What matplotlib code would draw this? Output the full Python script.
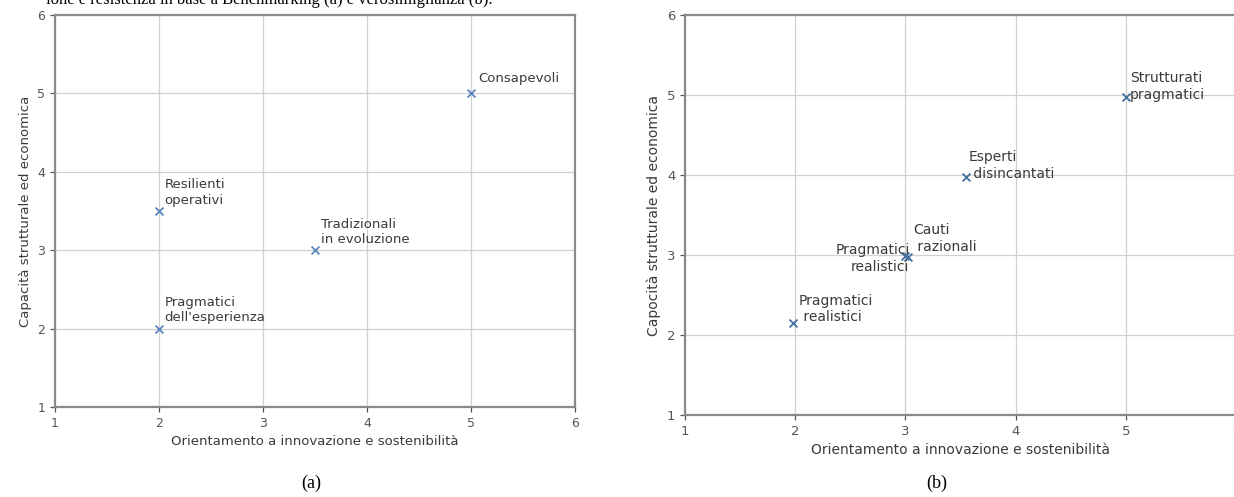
import matplotlib
matplotlib.use("Agg")
import matplotlib.pyplot as plt

# ---- data: panel (a) Benchmarking ----
a_labels = ["Consapevoli", "Resilienti\noperativi", "Tradizionali\nin evoluzione", "Pragmatici\ndell'esperienza"]
a_x = [5.0, 2.0, 3.5, 2.0]
a_y = [5.0, 3.5, 3.0, 2.0]

# ---- data: panel (b) verosimiglianza ----
b_labels = ["Strutturati\npragmatici", "Esperti\n disincantati", "Cauti\n razionali",
            "Pragmatici\nrealistici", "Pragmatici\n realistici"]
b_x = [5.0, 3.55, 3.02, 3.0, 1.98]
b_y = [4.98, 3.98, 2.98, 2.99, 2.15]

xlabel = "Orientamento a innovazione e sostenibilità"
a_ylabel = "Capacità strutturale ed economica"
b_ylabel = "Capocità strutturale ed economica"
ticks = [1, 2, 3, 4, 5, 6]
caption_top = "ione e resistenza in base a Benchmarking (a) e verosimiglianza (b)."

# label placement styles (offset points, alignment)
a_style = [((5, 6), "left", "bottom"), ((4, 3), "left", "bottom"),
           ((4, 3), "left", "bottom"), ((4, 3), "left", "bottom")]
b_style = [((3, -4), "left", "bottom"), ((2, -3), "left", "bottom"),
           ((4, 2), "left", "bottom"), ((3, -2), "right", "center"),
           ((4, -1), "left", "bottom")]

W, H = 1234, 497
fig = plt.figure(figsize=(W / 100, H / 100), dpi=100)

def px_axes(x0, x1, ytop, ybot):
    return fig.add_axes([x0 / W, 1 - ybot / H, (x1 - x0) / W, (ybot - ytop) / H])

axA = px_axes(55, 575, 15, 407)
axB = px_axes(685, 1236, 15, 415)

txt_col = "#3a3a3a"
spine_col = "#8a8a8a"

def style(ax, ylab, fs, mcol, xs, ys, labels, styles):
    ax.set_xlim(1, 6)
    ax.set_ylim(1, 6)
    ax.set_xticks(ticks)
    ax.set_yticks(ticks)
    ax.grid(True, color="#d0d0d0", linewidth=0.9)
    ax.set_axisbelow(True)
    for s in ax.spines.values():
        s.set_color(spine_col)
        s.set_linewidth(1.6)
    ax.tick_params(labelsize=fs - 0.5, colors="#555555", length=3.5, width=0.9)
    ax.set_xlabel(xlabel, fontsize=fs, color=txt_col, labelpad=4)
    ax.set_ylabel(ylab, fontsize=fs, color=txt_col, labelpad=4)
    ax.scatter(xs, ys, marker="x", s=32, color=mcol, linewidths=1.3, zorder=3)
    for lab, x, y, (off, ha, va) in zip(labels, xs, ys, styles):
        ax.annotate(lab, (x, y), xytext=off, textcoords="offset points",
                    ha=ha, va=va, multialignment=ha, fontsize=fs,
                    color=txt_col, linespacing=1.25)

style(axA, a_ylabel, 9.5, "#5a86c0", a_x, a_y, a_labels, a_style)
style(axB, b_ylabel, 10, "#456f9f", b_x, b_y, b_labels, b_style)

serif = ["Liberation Serif", "DejaVu Serif"]
fig.text(311 / W, 1 - 483 / H, "(a)", ha="center", va="center",
         fontsize=13, family=serif, color="black")
fig.text(937 / W, 1 - 483 / H, "(b)", ha="center", va="center",
         fontsize=13, family=serif, color="black")
fig.text(493 / W, 1 - 4 / H, caption_top, ha="right", va="baseline",
         fontsize=12, family=serif, color="black")

fig.savefig("out.png", dpi=100)
